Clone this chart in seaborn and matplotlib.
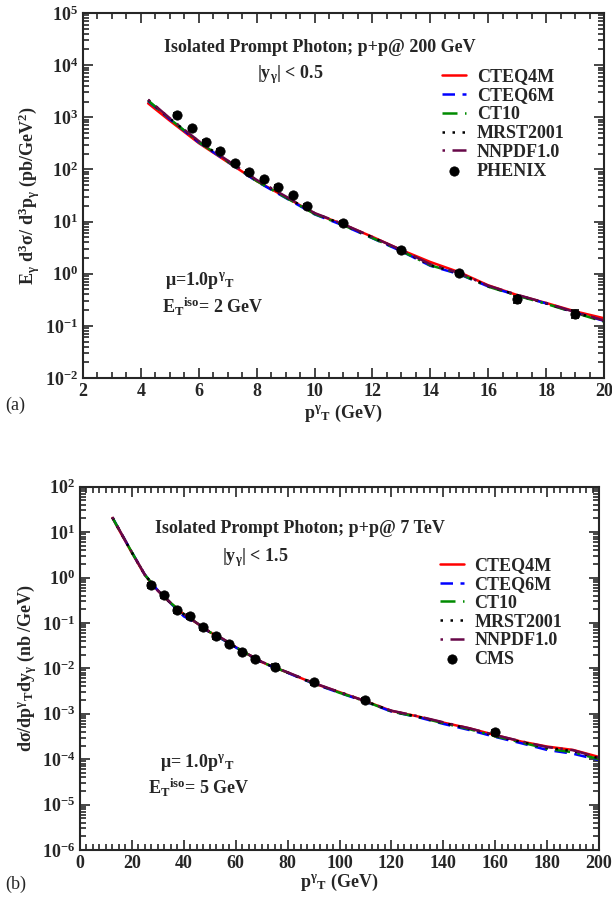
import numpy as np
import pandas as pd
import matplotlib
matplotlib.use('Agg')
import matplotlib.pyplot as plt
import matplotlib.ticker as mticker
import seaborn as sns

# ---------------- panel (a): RHIC 200 GeV ----------------
pt_a = [4.25, 5, 6, 7, 8, 9, 10, 11, 12, 13, 14, 15, 16, 17, 18, 19, 20]
cteq4m_a = [1850, 860, 320, 138, 60, 29.5, 14.3, 8.8, 5.1, 2.85, 1.68, 1.07, 0.60, 0.39, 0.275, 0.19, 0.14]
cteq6m_a = [2050, 920, 330, 140, 59, 28.5, 13.8, 8.4, 4.8, 2.70, 1.42, 0.98, 0.57, 0.385, 0.27, 0.18, 0.125]
ct10_a = [2100, 930, 335, 142, 60, 29.0, 14.0, 8.5, 4.85, 2.72, 1.45, 1.00, 0.565, 0.38, 0.265, 0.178, 0.12]
mrst_a = [2150, 950, 345, 146, 62, 30.0, 14.5, 8.7, 5.0, 2.80, 1.47, 1.02, 0.58, 0.39, 0.27, 0.18, 0.125]
nnpdf_a = [2180, 960, 350, 148, 63, 30.5, 14.6, 8.9, 5.05, 2.85, 1.52, 1.03, 0.59, 0.395, 0.275, 0.183, 0.127]

phenix_pt = [5.25, 5.75, 6.25, 6.75, 7.25, 7.75, 8.25, 8.75, 9.25, 9.75, 11, 13, 15, 17, 19]
phenix_val = [1100, 610, 340, 225, 130, 90, 65, 46, 32, 20, 9.5, 2.9, 1.05, 0.33, 0.17]
phenix_err = [90, 50, 28, 18, 10, 7, 5, 3.5, 2.5, 1.6, 0.8, 0.25, 0.1, 0.05, 0.03]

# ---------------- panel (b): LHC 7 TeV ----------------
pt_b = [12.5, 15, 20, 25, 30, 35, 40, 45, 50, 55, 60, 65, 70, 75, 80, 90, 100,
        110, 120, 130, 140, 150, 160, 170, 180, 190, 200]
cteq4m_b = [20.5, 11.3, 3.5, 1.13, 0.51, 0.27, 0.155, 0.099, 0.063, 0.044, 0.0295, 0.0200, 0.0138,
            0.0105, 0.0081, 0.0047, 0.0030, 0.0019, 0.00116, 0.00088, 0.00064, 0.00048, 0.00034,
            0.000245, 0.000190, 0.000160, 0.000112]
cteq6m_b = [21.0, 11.6, 3.6, 1.15, 0.52, 0.27, 0.140, 0.097, 0.062, 0.043, 0.0290, 0.0197, 0.0136,
            0.0104, 0.0080, 0.0046, 0.0029, 0.00185, 0.00112, 0.00085, 0.00060, 0.00044, 0.00031,
            0.000225, 0.000160, 0.000132, 0.000096]
ct10_b = [21.0, 11.5, 3.6, 1.15, 0.52, 0.275, 0.158, 0.100, 0.063, 0.044, 0.0295, 0.0200, 0.0138,
          0.0105, 0.0081, 0.0047, 0.0029, 0.00188, 0.00112, 0.00086, 0.00062, 0.00046, 0.00032,
          0.000235, 0.000170, 0.000142, 0.000100]
mrst_b = [21.0, 11.5, 3.55, 1.14, 0.515, 0.272, 0.156, 0.099, 0.063, 0.044, 0.0294, 0.0199, 0.0138,
          0.0105, 0.0081, 0.0047, 0.0030, 0.0019, 0.00115, 0.00087, 0.00063, 0.00047, 0.00033,
          0.000240, 0.000180, 0.000150, 0.000105]
nnpdf_b = [21.5, 11.7, 3.6, 1.16, 0.52, 0.275, 0.157, 0.100, 0.064, 0.045, 0.0298, 0.0202, 0.0140,
           0.0106, 0.0082, 0.0048, 0.0030, 0.0019, 0.00117, 0.00089, 0.00065, 0.00048, 0.00034,
           0.000248, 0.000185, 0.000158, 0.000108]

cms_pt = [27.5, 32.5, 37.5, 42.5, 47.5, 52.5, 57.5, 62.5, 67.5, 75, 90, 110, 160]
cms_val = [0.68, 0.41, 0.19, 0.14, 0.08, 0.051, 0.035, 0.023, 0.016, 0.011, 0.0049, 0.002, 0.0004]
cms_err = [0.08, 0.05, 0.025, 0.017, 0.009, 0.006, 0.004, 0.0026, 0.0018, 0.0012, 0.0005, 0.0002, 0.00005]

pdf_names = ['CTEQ4M', 'CTEQ6M', 'CT10', 'MRST2001', 'NNPDF1.0']
pdf_colors = ['#ff0000', '#0000ff', '#008b00', '#000000', '#670748']
pdf_dashes = ['-', (0, (5, 3)), (0, (6, 3, 1, 3)), (0, (1, 3)), (0, (1, 3, 8, 3))]

sns.set_style('ticks')
plt.rcParams['font.family'] = ['Liberation Serif', 'DejaVu Serif']
plt.rcParams['font.weight'] = 'bold'
plt.rcParams['mathtext.fontset'] = 'custom'
plt.rcParams['mathtext.rm'] = 'Liberation Serif:bold'
plt.rcParams['mathtext.it'] = 'Liberation Serif:bold'
plt.rcParams['mathtext.bf'] = 'Liberation Serif:bold'
plt.rcParams['mathtext.default'] = 'rm'

fig = plt.figure(figsize=(6.12, 9.02), dpi=100)
ax1 = fig.add_axes([0.1356, 0.5809, 0.8513, 0.4047])
ax2 = fig.add_axes([0.1307, 0.0576, 0.8481, 0.4028])

FS = 13


def draw_panel(ax, pt, curves, dpt, dval, derr, dname):
    for vals, name, col, ls in zip(curves, pdf_names, pdf_colors, pdf_dashes):
        df = pd.DataFrame({'pt': pt, 'val': vals})
        sns.lineplot(data=df, x='pt', y='val', ax=ax, color=col, linestyle=ls,
                     linewidth=1.8, label=name, legend=False)
    ax.errorbar(dpt, dval, yerr=derr, fmt='none', ecolor='black', elinewidth=1.2,
                capsize=3, capthick=1.2, zorder=5)
    sns.scatterplot(x=dpt, y=dval, ax=ax, color='black', s=45, edgecolor='black',
                    label=dname, zorder=6, legend=False)
    ax.set_yscale('log')
    ax.tick_params(which='both', direction='in', top=True, right=True,
                   labelsize=FS, width=1.2)
    ax.tick_params(which='major', length=7)
    ax.tick_params(which='minor', length=4)
    ax.yaxis.set_major_locator(mticker.LogLocator(base=10, numticks=20))
    ax.yaxis.set_minor_locator(mticker.LogLocator(base=10, subs=np.arange(2, 10), numticks=20))
    ax.yaxis.set_minor_formatter(mticker.NullFormatter())
    ax.yaxis.set_major_formatter(mticker.LogFormatterMathtext())
    for sp in ax.spines.values():
        sp.set_linewidth(1.5)
    for lab in ax.get_xticklabels() + ax.get_yticklabels():
        lab.set_fontweight('bold')
    h, l = ax.get_legend_handles_labels()
    return h, l


h1, l1 = draw_panel(ax1, pt_a, [cteq4m_a, cteq6m_a, ct10_a, mrst_a, nnpdf_a],
                    phenix_pt, phenix_val, phenix_err, 'PHENIX')
ax1.set_xlim(2, 20)
ax1.set_ylim(1e-2, 1e5)
ax1.xaxis.set_major_locator(mticker.MultipleLocator(2))
ax1.xaxis.set_minor_locator(mticker.MultipleLocator(0.5))
ax1.set_xlabel(r'$p^{\gamma}{}_{T}$ (GeV)', fontsize=FS, fontweight='bold', labelpad=2)
ax1.set_ylabel(r'$E_{\gamma}\ d^{3}\sigma/\ d^{3}p_{\gamma}$ (pb/GeV$^{2}$)', fontsize=FS,
               fontweight='bold', labelpad=2)
ax1.legend(h1, l1, loc='upper left', bbox_to_anchor=(0.69, 0.848), frameon=False,
           fontsize=FS, handlelength=1.3, handletextpad=0.6, labelspacing=0.1,
           borderpad=0, borderaxespad=0)
ax1.text(0.155, 0.905, 'Isolated Prompt Photon; p+p@ 200 GeV', transform=ax1.transAxes,
         fontsize=FS, fontweight='bold', va='center')
ax1.text(0.334, 0.830, r'|y$_{\gamma}$| < 0.5', transform=ax1.transAxes,
         fontsize=FS, fontweight='bold', va='center')
ax1.text(0.158, 0.268, r'$\mu$=1.0p$^{\gamma}{}_{T}$', transform=ax1.transAxes,
         fontsize=FS, fontweight='bold', va='center')
ax1.text(0.152, 0.195, r'E$_{T}{}^{iso}$= 2 GeV', transform=ax1.transAxes,
         fontsize=FS, fontweight='bold', va='center')

h2, l2 = draw_panel(ax2, pt_b, [cteq4m_b, cteq6m_b, ct10_b, mrst_b, nnpdf_b],
                    cms_pt, cms_val, cms_err, 'CMS')
ax2.set_xlim(0, 200)
ax2.set_ylim(1e-6, 1e2)
ax2.xaxis.set_major_locator(mticker.MultipleLocator(20))
ax2.xaxis.set_minor_locator(mticker.MultipleLocator(2.5))
ax2.set_xlabel(r'$p^{\gamma}{}_{T}$ (GeV)', fontsize=FS, fontweight='bold', labelpad=0)
ax2.set_ylabel(r'd$\sigma$/dp$^{\gamma}{}_{T}$dy$_{\gamma}$ (nb /GeV)', fontsize=FS,
               fontweight='bold', labelpad=2)
ax2.legend(h2, l2, loc='upper left', bbox_to_anchor=(0.694, 0.806), frameon=False,
           fontsize=FS, handlelength=1.3, handletextpad=0.6, labelspacing=0.1,
           borderpad=0, borderaxespad=0)
ax2.text(0.145, 0.886, 'Isolated Prompt Photon; p+p@ 7 TeV', transform=ax2.transAxes,
         fontsize=FS, fontweight='bold', va='center')
ax2.text(0.274, 0.806, r'|y$_{\gamma}$| < 1.5', transform=ax2.transAxes,
         fontsize=FS, fontweight='bold', va='center')
ax2.text(0.154, 0.242, r'$\mu$= 1.0p$^{\gamma}{}_{T}$', transform=ax2.transAxes,
         fontsize=FS, fontweight='bold', va='center')
ax2.text(0.131, 0.171, r'E$_{T}{}^{iso}$= 5 GeV', transform=ax2.transAxes,
         fontsize=FS, fontweight='bold', va='center')

fig.text(0.008, 1 - 405 / 902, '(a)', fontsize=FS, fontweight='normal', va='center')
fig.text(0.008, 1 - 884 / 902, '(b)', fontsize=FS, fontweight='normal', va='center')

fig.savefig('out.png', dpi=100)
